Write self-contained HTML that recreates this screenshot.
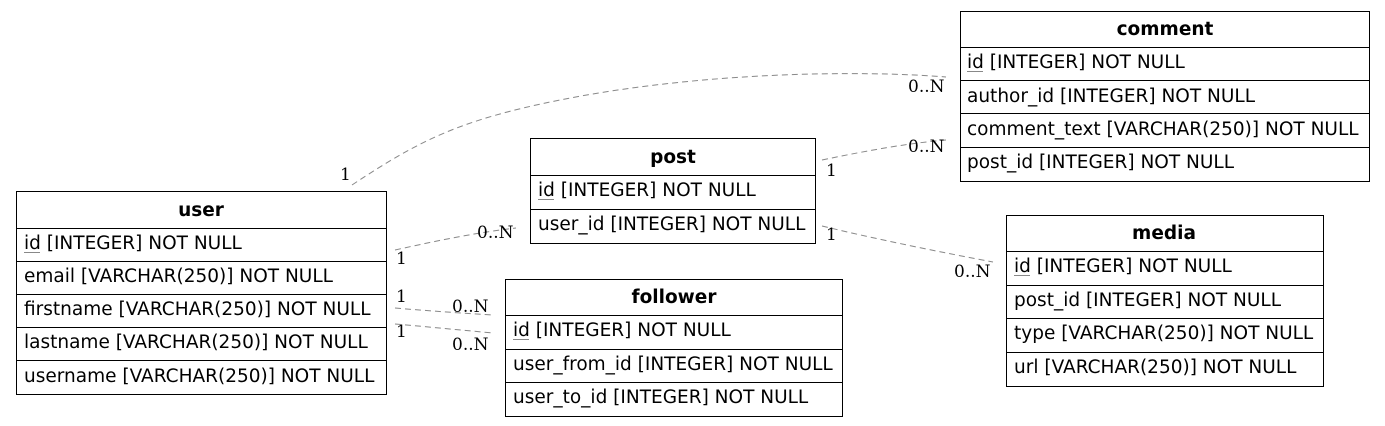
<!DOCTYPE html>
<html><head><meta charset="utf-8"><style>
html,body{margin:0;padding:0;background:#fff;}
svg{display:block;}
.t{font-family:"DejaVu Sans","Liberation Sans",sans-serif;font-size:18.5px;fill:#000;}
.b{font-weight:bold;}
.l{font-family:"DejaVu Serif","Liberation Serif",serif;font-size:17px;fill:#000;}
.e{fill:none;stroke:#888;stroke-width:1;stroke-dasharray:6,4;}
rect,line.s{fill:#fff;stroke:#000;stroke-width:1;}
.u{stroke:#888;stroke-width:1;}
</style></head><body>
<svg width="1385" height="426" viewBox="0 0 1385 426" xmlns="http://www.w3.org/2000/svg">
<path class="e" d="M352,185 C420,140 460,120 560,100 C700,72 860,70 946,77"/>
<path class="e" d="M822,160 C870,150 910,143 946,140"/>
<path class="e" d="M395,250 C440,240 480,232 516,228"/>
<path class="e" d="M822,226 C880,240 940,252 993,262"/>
<path class="e" d="M395,308 C430,311 460,313 493,315"/>
<path class="e" d="M395,324 C430,327 460,330 493,333"/>
<text class="l" x="340" y="180">1</text>
<text class="l" x="908" y="92">0..N</text>
<text class="l" x="826" y="176">1</text>
<text class="l" x="908" y="152">0..N</text>
<text class="l" x="396" y="264">1</text>
<text class="l" x="477" y="238">0..N</text>
<text class="l" x="826" y="240">1</text>
<text class="l" x="954" y="277">0..N</text>
<text class="l" x="396" y="302">1</text>
<text class="l" x="452" y="312">0..N</text>
<text class="l" x="396" y="337">1</text>
<text class="l" x="452" y="350">0..N</text>

<rect x="16.5" y="191.5" width="370" height="203"/>
<line class="s" x1="16" y1="228.5" x2="387" y2="228.5"/>
<line class="s" x1="16" y1="261.5" x2="387" y2="261.5"/>
<line class="s" x1="16" y1="294.5" x2="387" y2="294.5"/>
<line class="s" x1="16" y1="327.5" x2="387" y2="327.5"/>
<line class="s" x1="16" y1="360.5" x2="387" y2="360.5"/>
<text class="t b" x="201" y="216" text-anchor="middle">user</text>
<text class="t" x="24" y="249">id [INTEGER] NOT NULL</text>
<line class="u" x1="24" y1="252.5" x2="40" y2="252.5"/>
<text class="t" x="24" y="282">email [VARCHAR(250)] NOT NULL</text>
<text class="t" x="24" y="315">firstname [VARCHAR(250)] NOT NULL</text>
<text class="t" x="24" y="348">lastname [VARCHAR(250)] NOT NULL</text>
<text class="t" x="24" y="382">username [VARCHAR(250)] NOT NULL</text>

<rect x="530.5" y="138.5" width="285" height="105"/>
<line class="s" x1="530" y1="175.5" x2="816" y2="175.5"/>
<line class="s" x1="530" y1="209.5" x2="816" y2="209.5"/>
<text class="t b" x="673" y="163" text-anchor="middle">post</text>
<text class="t" x="538" y="196">id [INTEGER] NOT NULL</text>
<line class="u" x1="538" y1="199.5" x2="554" y2="199.5"/>
<text class="t" x="538" y="230">user_id [INTEGER] NOT NULL</text>

<rect x="505.5" y="279.5" width="337" height="137"/>
<line class="s" x1="505" y1="315.5" x2="843" y2="315.5"/>
<line class="s" x1="505" y1="349.5" x2="843" y2="349.5"/>
<line class="s" x1="505" y1="382.5" x2="843" y2="382.5"/>
<text class="t b" x="674" y="303" text-anchor="middle">follower</text>
<text class="t" x="513" y="336">id [INTEGER] NOT NULL</text>
<line class="u" x1="513" y1="339.5" x2="529" y2="339.5"/>
<text class="t" x="513" y="370">user_from_id [INTEGER] NOT NULL</text>
<text class="t" x="513" y="403">user_to_id [INTEGER] NOT NULL</text>

<rect x="960.5" y="11.5" width="409" height="170"/>
<line class="s" x1="960" y1="47.5" x2="1370" y2="47.5"/>
<line class="s" x1="960" y1="80.5" x2="1370" y2="80.5"/>
<line class="s" x1="960" y1="113.5" x2="1370" y2="113.5"/>
<line class="s" x1="960" y1="147.5" x2="1370" y2="147.5"/>
<text class="t b" x="1165" y="35" text-anchor="middle">comment</text>
<text class="t" x="967" y="68">id [INTEGER] NOT NULL</text>
<line class="u" x1="967" y1="71.5" x2="983" y2="71.5"/>
<text class="t" x="967" y="102">author_id [INTEGER] NOT NULL</text>
<text class="t" x="967" y="135">comment_text [VARCHAR(250)] NOT NULL</text>
<text class="t" x="967" y="168">post_id [INTEGER] NOT NULL</text>

<rect x="1006.5" y="215.5" width="317" height="171"/>
<line class="s" x1="1006" y1="251.5" x2="1324" y2="251.5"/>
<line class="s" x1="1006" y1="285.5" x2="1324" y2="285.5"/>
<line class="s" x1="1006" y1="318.5" x2="1324" y2="318.5"/>
<line class="s" x1="1006" y1="352.5" x2="1324" y2="352.5"/>
<text class="t b" x="1164" y="239" text-anchor="middle">media</text>
<text class="t" x="1014" y="272">id [INTEGER] NOT NULL</text>
<line class="u" x1="1014" y1="275.5" x2="1030" y2="275.5"/>
<text class="t" x="1014" y="306">post_id [INTEGER] NOT NULL</text>
<text class="t" x="1014" y="339">type [VARCHAR(250)] NOT NULL</text>
<text class="t" x="1014" y="373">url [VARCHAR(250)] NOT NULL</text>
</svg>
</body></html>
